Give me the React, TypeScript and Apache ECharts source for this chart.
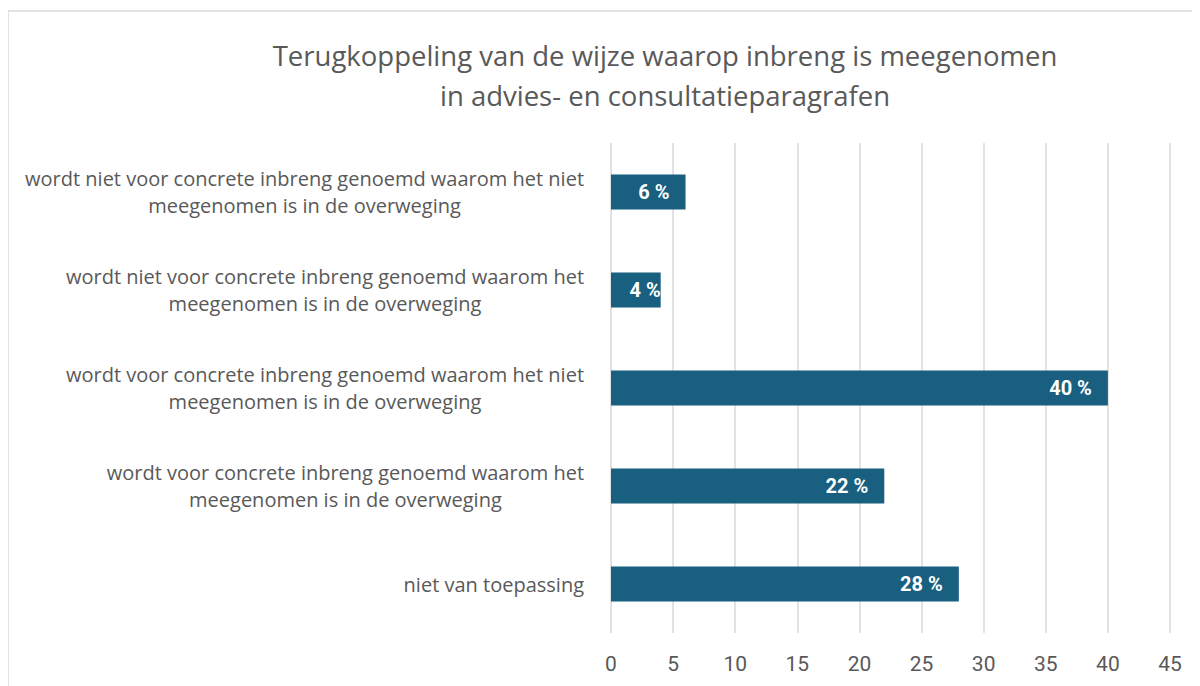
import React, { useEffect, useRef } from "react";
import * as echarts from "echarts";

const titleLines = [
  "Terugkoppeling van de wijze waarop inbreng is meegenomen",
  "in advies- en consultatieparagrafen",
];

// categories top to bottom (each as wrapped lines)
const categories: string[][] = [
  ["wordt niet voor concrete inbreng genoemd waarom het niet", "meegenomen is in de overweging"],
  ["wordt niet voor concrete inbreng genoemd waarom het", "meegenomen is in de overweging"],
  ["wordt voor concrete inbreng genoemd waarom het niet", "meegenomen is in de overweging"],
  ["wordt voor concrete inbreng genoemd waarom het", "meegenomen is in de overweging"],
  ["niet van toepassing"],
];
const values = [6, 4, 40, 22, 28];
const xTicks = [0, 5, 10, 15, 20, 25, 30, 35, 40, 45];

export default function App() {
  const ref = useRef<HTMLDivElement>(null);
  useEffect(() => {
    if (!ref.current) return;
    const chart = echarts.init(ref.current, null, { renderer: "svg" });
    const catKeys = categories.map((_, i) => "c" + i);
    chart.setOption({
      animation: false,
      backgroundColor: "#ffffff",
      title: {
        text: titleLines.join("\n"),
        left: 652,
        top: 22,
        textAlign: "center",
        textStyle: {
          fontFamily: "Open Sans",
          fontSize: 27.5,
          fontWeight: "normal",
          color: "#595959",
          lineHeight: 40,
        },
      },
      graphic: [
        {
          type: "rect",
          shape: { x: 0, y: 3, width: 1400, height: 900 },
          style: { fill: "none", stroke: "#d9d9d9", lineWidth: 1.5 },
          silent: true,
          z: -1,
        },
      ],
      grid: { left: 603, right: 30, top: 135, bottom: 53, containLabel: false },
      xAxis: {
        type: "value",
        min: xTicks[0],
        max: xTicks[xTicks.length - 1],
        interval: 5,
        axisLine: { show: false },
        axisTick: { show: false },
        splitLine: { show: true, lineStyle: { color: "#d9d9d9", width: 1.5 } },
        axisLabel: {
          margin: 20,
          fontFamily: "Liberation Sans Narrow, Roboto, sans-serif",
          fontSize: 21,
          color: "#595959",
        },
      },
      yAxis: {
        type: "category",
        inverse: true,
        data: catKeys,
        axisLine: { show: false },
        axisTick: { show: false },
        axisLabel: {
          margin: 27,
          formatter: (v: string) => {
            const idx = catKeys.indexOf(v);
            return categories[idx].map((l) => "{c|" + l + "}").join("\n");
          },
          rich: {
            c: {
              align: "center",
              fontFamily: "Open Sans",
              fontSize: 20,
              color: "#595959",
              lineHeight: 27,
            },
          },
        },
      },
      series: [
        {
          type: "bar",
          data: values.map((v, i) =>
            i === 1 ? { value: v, label: { offset: [16, 0] } } : v
          ),
          barWidth: 35,
          itemStyle: { color: "#185f80" },
          label: {
            show: true,
            position: "insideRight",
            distance: 16,
            formatter: (p: any) => p.value + " %",
            fontFamily: "Liberation Sans Narrow, Roboto, sans-serif",
            fontWeight: "bold",
            fontSize: 20,
            color: "#ffffff",
          },
        },
      ],
    });
    return () => chart.dispose();
  }, []);
  return <div ref={ref} style={{ width: 1192, height: 678 }} />;
}
